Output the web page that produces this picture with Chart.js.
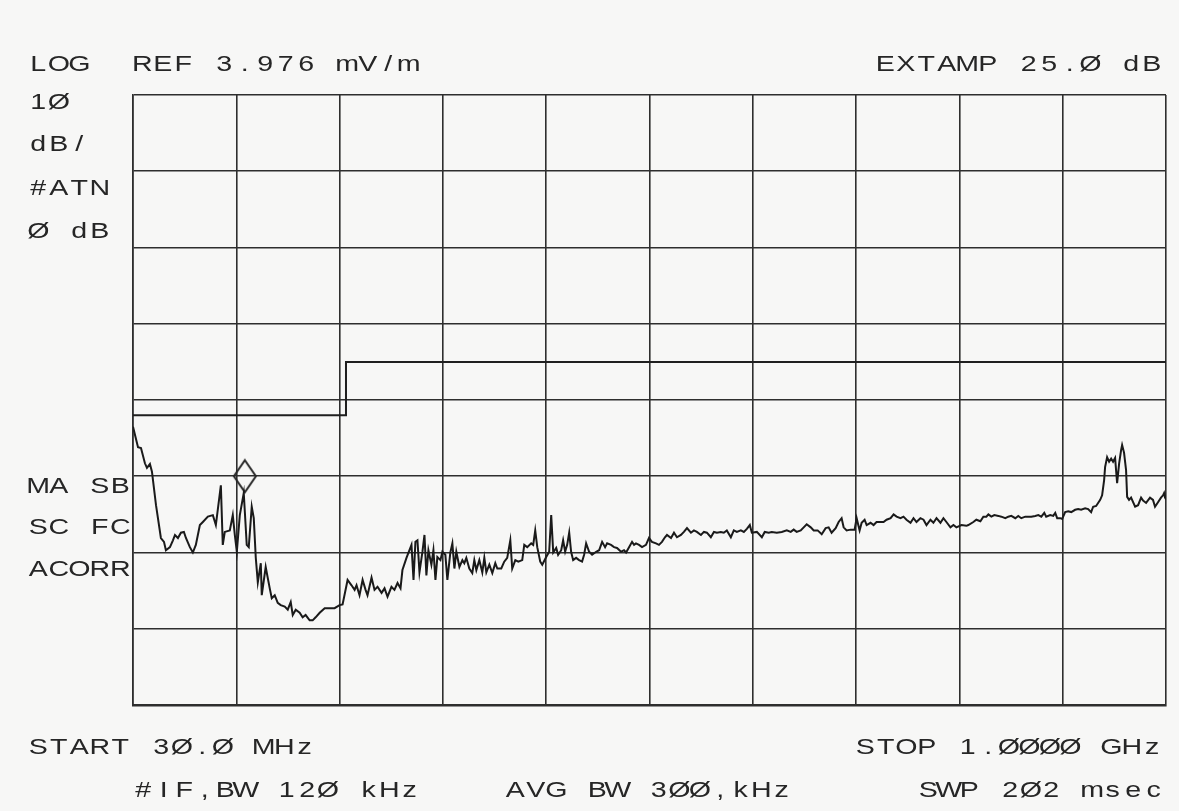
<!DOCTYPE html>
<html>
<head>
<meta charset="utf-8">
<title>EMI scan 30 MHz – 1 GHz</title>
<script src="https://cdn.jsdelivr.net/npm/chart.js@4.4.1/dist/chart.umd.min.js"></script>
<style>
  html, body { margin: 0; padding: 0; background: #f7f7f6; }
  #wrap { width: 1179px; height: 811px; position: relative; }
  canvas { display: block; }
</style>
</head>
<body>
<div id="wrap"><canvas id="scan" width="1179" height="811"></canvas></div>
<script>
// Measured trace: frequency (MHz) and field strength (dBµV/m, ref 3.976 mV/m = 72 dBµV/m)
const freqMHz = [
  30, 34.7, 37.5, 41.2, 43.1, 45.9, 47.8, 51.6, 56.2, 59.1, 60.9, 64.7, 67.5, 69.4, 72.2, 75.0,
  77.8, 79.7, 83.4, 86.2, 89.0, 92.8, 95.6, 100.3, 105.0, 107.8, 112.5, 114.3, 116.2, 120.9, 123.7,
  125.6, 127.5, 130.3, 134.0, 136.8, 138.7, 141.5, 143.4, 145.3, 147.2, 150.0, 150.9, 154.6, 158.4,
  160.3, 163.1, 165.9, 168.7, 172.5, 175.3, 178.1, 180.0, 182.8, 186.5, 189.3, 192.1, 195.9, 198.7,
  201.5, 205.3, 210.0, 214.6, 219.3, 224.0,
  226.8, 231.5, 235.2, 238.1, 239.9, 242.7, 245.6, 248.4, 250.2, 254.0, 256.8, 259.6, 263.4, 266.2,
  269.0, 272.7, 275.5, 278.4, 281.2, 283.0, 286.8, 289.6, 291.5, 293.4, 295.2, 297.1, 299.0, 301.8,
  303.7, 305.5, 307.4, 310.2, 312.1, 314.0, 315.8, 318.7, 320.5, 323.3, 325.2, 328.0, 329.9, 331.8,
  333.6, 336.5, 339.3, 341.1, 343.0, 345.8, 348.6, 350.5, 352.4, 355.2, 358.0, 359.9, 361.8, 364.6,
  367.4, 370.2, 372.1, 375.8, 378.6, 381.4, 384.3, 386.1, 389.0, 391.8, 395.5, 397.4, 400.2, 403.9,
  405.8, 407.7, 409.6, 412.4, 414.3,
  418.0, 420.8, 422.7, 424.6, 427.4, 429.2, 432.1, 433.9, 435.8, 437.7, 439.6, 441.4, 443.3, 446.1,
  448.9, 451.7, 453.6, 455.5, 458.3, 461.1, 464.9, 467.7, 470.5, 473.3, 475.2, 478.9, 481.7, 484.5,
  488.3, 491.1, 493.0, 495.8, 498.6, 500.5, 502.3, 505.2, 508.0, 511.7, 514.5, 517.3, 521.1, 523.9,
  526.7, 529.5, 531.4, 535.2, 538.0, 540.8, 544.5, 547.3, 550.2, 553.9, 556.7, 559.5, 563.3, 566.1,
  568.9, 572.6, 575.5, 578.3, 582.0, 584.8, 587.6, 591.4, 594.2, 597.0, 600.8, 603.6, 606.4, 609.2,
  611.1,
  615.8, 620.5, 623.2, 627.0, 629.8, 634.5, 639.2, 643.9, 647.6, 650.4, 653.2, 657.0, 659.8, 662.6,
  666.4, 669.2, 672.9, 676.7, 680.4, 683.2, 686.0, 689.8, 692.6, 695.4, 697.3, 700.1, 703.9, 707.6,
  709.5, 712.3, 714.2, 717.0, 718.9, 722.6, 725.4, 728.2, 732.0, 734.8, 737.6, 741.4, 744.2, 747.0,
  750.7, 753.5, 756.3, 760.1, 762.9, 765.7, 769.4, 772.3, 775.1, 778.8, 781.6, 784.5, 788.2, 791.0,
  793.8, 797.6, 800.4, 803.2, 807.9,
  812.6, 814.4, 819.1, 821.9, 825.7, 828.5, 831.3, 833.2, 836.0, 838.8, 842.6, 845.4, 849.1, 851.9,
  854.7, 858.5, 861.3, 864.1, 867.9, 870.7, 873.5, 877.2, 880.1, 882.9, 885.7, 887.5, 891.3, 894.1,
  896.0, 897.8, 900.7, 902.5, 905.3, 908.2, 911.0, 914.7, 917.5, 920.3, 924.1, 926.9, 929.7, 931.6,
  934.4, 938.2, 940.0, 941.9, 942.8, 944.7, 946.6, 948.5, 950.3, 952.2, 954.1, 956.0, 957.8, 958.8,
  960.6, 962.5, 963.5, 965.3, 967.2, 971.0, 973.8, 976.6, 978.5, 981.3, 985.0, 987.8, 989.7, 992.5,
  995.3, 997.2, 998.2, 999.1, 1000
];
const levelDb = [
  28.5, 25.8, 25.7, 23.7, 23.1, 23.6, 22.6, 18.2, 13.9, 13.4, 12.3, 12.7, 13.6, 14.3, 13.9, 14.6,
  14.7, 13.9, 12.7, 12.0, 13.0, 15.6, 16.0, 16.7, 16.9, 15.6, 20.8, 13.0, 14.7, 14.9, 16.9,
  14.3, 12.1, 16.9, 19.8, 13.0, 12.7, 18.0, 16.5, 11.3, 8.1, 10.6, 6.4, 10.1, 7.3,
  6.0, 6.4, 5.4, 5.1, 4.9, 4.5, 5.5, 3.8, 4.5, 4.1, 3.5, 3.8, 3.1, 3.1,
  3.5, 4.1, 4.7, 4.7, 4.7, 5.1,
  5.2, 8.4, 7.7, 7.1, 7.7, 6.4, 8.4, 7.1, 6.4, 8.7, 7.1, 7.5, 6.7, 7.3,
  6.2, 7.5, 7.1, 8.0, 7.3, 9.7, 11.3, 12.3, 13.0, 8.4, 13.4, 13.6, 9.4, 12.1,
  14.3, 9.0, 12.3, 10.4, 12.3, 8.4, 11.4, 11.0, 12.1, 11.7, 8.4, 12.0, 13.2, 9.9,
  12.1, 10.1, 11.0, 10.6, 11.3, 9.9, 9.3, 11.0, 9.7, 11.0, 9.4, 11.3, 9.4, 10.4,
  9.3, 10.6, 9.9, 9.9, 10.8, 11.3, 13.6, 9.9, 11.0, 10.8, 11.0, 13.0, 12.7, 13.2,
  13.0, 14.9, 12.7, 10.8, 10.4,
  11.4, 12.1, 16.9, 12.0, 12.6, 11.7, 12.3, 13.6, 12.1, 13.0, 14.6, 12.1, 11.0, 11.3,
  11.0, 10.8, 11.7, 13.2, 12.1, 11.7, 12.1, 12.3, 13.4, 12.7, 13.2, 13.0, 12.7, 12.6,
  12.1, 12.3, 12.0, 12.7, 13.4, 13.0, 13.2, 13.0, 12.7, 13.0, 13.9, 13.4, 13.2, 13.0,
  13.4, 14.0, 14.3, 13.9, 14.6, 14.0, 14.3, 14.7, 15.2, 14.6, 14.9, 14.7, 14.3, 14.7,
  14.6, 14.0, 14.7, 14.6, 14.7, 14.6, 14.9, 14.0, 14.9, 14.7, 14.9, 14.7, 15.1, 15.6,
  14.6,
  14.7, 14.0, 14.7, 14.6, 14.7, 14.6, 14.7, 14.9, 14.7, 15.0, 14.7, 14.9, 15.3, 15.7,
  15.3, 14.9, 14.9, 14.4, 15.2, 15.3, 14.6, 15.2, 16.0, 16.5, 15.3, 14.9, 15.0, 15.0,
  16.5, 14.9, 15.9, 16.3, 15.6, 15.9, 15.6, 16.0, 16.0, 16.0, 16.3, 16.5, 17.0, 16.7,
  16.5, 16.7, 16.3, 15.9, 16.5, 16.0, 16.5, 16.3, 15.6, 16.3, 15.9, 16.5, 15.9, 16.5,
  16.0, 15.3, 15.6, 15.3, 15.6,
  15.5, 15.6, 16.0, 16.3, 16.1, 16.7, 16.7, 17.0, 16.7, 16.9, 16.8, 16.7, 16.5, 16.7,
  16.8, 16.5, 16.8, 16.5, 16.7, 16.7, 16.7, 16.8, 16.9, 16.7, 17.2, 16.7, 16.9, 16.8,
  17.2, 16.5, 16.5, 16.4, 17.3, 17.4, 17.3, 17.6, 17.7, 17.6, 17.8, 17.7, 17.3, 18.0,
  18.1, 18.9, 19.5, 21.5, 23.2, 24.5, 23.9, 24.3, 23.9, 24.4, 21.1, 23.7, 25.4, 26.1,
  25.1, 22.8, 19.3, 18.9, 19.2, 18.0, 18.2, 19.2, 18.8, 18.5, 19.2, 18.9, 18.0, 18.6,
  19.2, 19.5, 19.8, 19.2, 19.0
];

// Limit line (30 dBµV/m below 230 MHz, 37 dBµV/m above)
const limitFreq = [30, 230, 230, 1000];
const limitLevel = [30, 30, 37, 37];

// Marker
const markerFreq = [135];
const markerLevel = [22];

// Graticule: 10 horizontal x 8 vertical divisions, 10 dB/div
const xGridMHz = [30, 127, 224, 321, 418, 515, 612, 709, 806, 903, 1000];
const yGridDb = [-8, 2, 12, 22, 32, 42, 52, 62, 72];

// Annotation strings around the graticule
const headerLeft = ["LOG", "REF 3.976 mV/m"];
const headerRight = "EXTAMP 25.Ø dB";
const scaleInfo = ["1Ø", "dB/", "#ATN", "Ø dB"];
const statusInfo = ["MA SB", "SC FC", "ACORR"];
const footerTop = ["START 3Ø.Ø MHz", "STOP 1.ØØØØ GHz"];
const footerBottom = ["#IF,BW 12Ø kHz", "AVG BW 3ØØ,kHz", "SWP 2Ø2 msec"];

const INK = "#262626";
const GRID = "#2e2e2e";

function zip(xs, ys) { return xs.map((x, i) => ({ x: x, y: ys[i] })); }

// Diamond marker glyph (taller than wide)
function diamondGlyph() {
  const c = document.createElement("canvas");
  c.width = 26; c.height = 36;
  const g = c.getContext("2d");
  g.strokeStyle = INK;
  g.lineWidth = 2;
  g.beginPath();
  g.moveTo(13, 2); g.lineTo(24, 18); g.lineTo(13, 34); g.lineTo(2, 18); g.closePath();
  g.stroke();
  return c;
}

// Fixed-pitch plotter-style lettering, glyphs stretched to fill the cell
const PITCH = 20.5;
const STRETCH = 1.3;
function mono(ctx, s, x, baseline) {
  for (let i = 0; i < s.length; i++) {
    ctx.save();
    ctx.translate(x + i * PITCH + PITCH / 2, baseline);
    ctx.scale(STRETCH, 1);
    ctx.fillText(s[i], 0, 0);
    ctx.restore();
  }
}

const annotations = {
  id: "annotations",
  afterDraw(chart) {
    const ctx = chart.ctx;
    ctx.save();
    ctx.fillStyle = INK;
    ctx.font = '22px "Liberation Sans", "DejaVu Sans", sans-serif';
    ctx.textAlign = "center";
    ctx.textBaseline = "alphabetic";
    mono(ctx, headerLeft[0], 28, 71);
    mono(ctx, headerLeft[1], 132, 71);
    mono(ctx, headerRight, 875, 71);
    const scaleY = [109, 151, 195, 238];
    scaleInfo.forEach((s, i) => mono(ctx, s, 28, scaleY[i]));
    const statusY = [493, 534, 576];
    statusInfo.forEach((s, i) => mono(ctx, s, 28, statusY[i]));
    mono(ctx, footerTop[0], 28, 754);
    mono(ctx, footerTop[1], 855, 754);
    mono(ctx, footerBottom[0], 133, 797);
    mono(ctx, footerBottom[1], 505, 797);
    mono(ctx, footerBottom[2], 918, 797);
    ctx.restore();
  }
};

new Chart(document.getElementById("scan"), {
  type: "line",
  data: {
    datasets: [
      {
        label: "trace",
        data: zip(freqMHz, levelDb),
        borderColor: "#1a1a1a",
        borderWidth: 2,
        pointRadius: 0,
        tension: 0,
        fill: false
      },
      {
        label: "limit",
        data: zip(limitFreq, limitLevel),
        borderColor: "#1f1f1f",
        borderWidth: 2,
        pointRadius: 0,
        tension: 0,
        fill: false
      },
      {
        label: "marker",
        data: zip(markerFreq, markerLevel),
        showLine: false,
        pointStyle: diamondGlyph(),
        pointRadius: 12,
        borderColor: INK
      }
    ]
  },
  options: {
    responsive: false,
    animation: false,
    devicePixelRatio: 1,
    layout: { padding: { left: 133, top: 95, right: 11, bottom: 106 } },
    plugins: { legend: { display: false }, tooltip: { enabled: false } },
    scales: {
      x: {
        type: "linear",
        min: 30, max: 1000,
        afterBuildTicks(axis) { axis.ticks = xGridMHz.map(v => ({ value: v })); },
        ticks: { display: false },
        grid: { color: GRID, lineWidth: 1.6, drawTicks: false },
        border: { color: GRID, width: 2.4 }
      },
      y: {
        type: "linear",
        min: -8, max: 72,
        afterBuildTicks(axis) { axis.ticks = yGridDb.map(v => ({ value: v })); },
        ticks: { display: false },
        grid: { color: GRID, lineWidth: 1.6, drawTicks: false },
        border: { color: GRID, width: 1.6 }
      }
    }
  },
  plugins: [annotations]
});
</script>
</body>
</html>
